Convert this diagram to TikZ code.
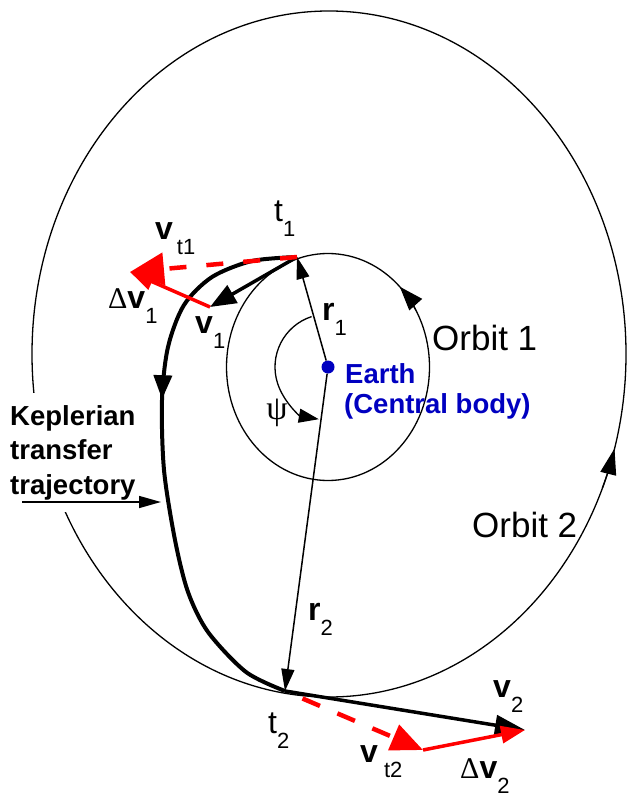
\documentclass[tikz,border=0pt]{standalone}
\usepackage{fontspec}
\setmainfont{Liberation Sans}
\newfontfamily\greekfont{Liberation Serif}
\usetikzlibrary{arrows.meta,decorations.markings}
\definecolor{earthblue}{HTML}{0000C0}
\definecolor{burnred}{HTML}{FF0000}
\newcommand{\subsz}{\fontsize{22}{22}\selectfont}
\newcommand{\idx}[1]{\raisebox{-15pt}{\subsz #1}}
\newcommand{\dlt}{{\greekfont\fontsize{30}{30}\selectfont Δ}}
\tikzset{
  orbit/.style={line width=1.3pt},
  transfer/.style={line width=4pt},
  radvec/.style={line width=1.5pt,-{Triangle[length=22pt,width=13pt]}},
  pointer/.style={line width=1.5pt,-{Triangle[length=22pt,width=12pt]}},
  vel/.style={line width=3.5pt,-{Triangle[length=26pt,width=20pt]}},
  % the transfer velocities are dashed red, the impulses solid red
  tvel/.style={burnred,line width=4.5pt,dash pattern=on 17pt off 20pt,-{Triangle[length=34pt,width=32pt]}},
  dvel/.style={burnred,line width=3.5pt,-{Triangle[length=24pt,width=17pt]}},
  lab/.style={inner sep=0,anchor=base west,font=\fontsize{32}{32}\selectfont},
  olab/.style={inner sep=0,anchor=base west,font=\fontsize{35}{35}\selectfont},
  blab/.style={inner sep=0,anchor=base west,font=\fontsize{27.5}{34.5}\selectfont\bfseries},
}

\begin{document}
\begin{tikzpicture}[x=1pt,y=-1pt]
  \useasboundingbox (0,0) rectangle (626,799);
  % the two orbits and the central body
  \coordinate (O2) at (329,354);
  \coordinate (t1) at (297,257);
  \coordinate (t2) at (285,691);
  \draw[orbit] (O2) ellipse[x radius=297, y radius=343];
  \draw[orbit,-{Triangle[length=26pt,width=16pt]}] (O2) ++(23:297 and 343) arc[start angle=23, end angle=16, x radius=297, y radius=343];
  \node[blab,anchor=north west,align=left,fill=white,inner sep=12pt] (kep) at (-2,393) {Keplerian\\transfer\\trajectory};
  \node[circle,fill=earthblue,minimum size=13pt,inner sep=0] (earth) at (328,367) {};
  \draw[orbit] (earth.center) ellipse[x radius=101.5, y radius=113.5];
  \draw[orbit,-{Triangle[length=24pt,width=17pt]}] (earth.center) ++(-30:101.5 and 113.5) arc[start angle=-30, end angle=-45, x radius=101.5, y radius=113.5];
  % position vectors and the transfer angle
  \draw[radvec] (earth) -- (t1);
  \draw[radvec] (earth) -- (t2);
  \draw[orbit,-{Triangle[length=20pt,width=14pt]}] (earth.center) ++(252:53) arc[start angle=252, end angle=100, radius=53];
  % the transfer arc
  \draw[transfer,postaction={decorate},decoration={markings,mark=at position 0.4 with {\arrow{Triangle[length=24pt,width=18pt]}}}]
    plot[smooth] coordinates {(t1) (252,261) (212,277) (184,305) (168,347) (162,400) (164,470) (175,540) (188,592) (208,632) (246,672) (t2)};
  \coordinate (kbeg) at (22,502);
  \coordinate (kend) at (161,502);
  \draw[pointer] (kbeg) -- (kend);
  % velocities at departure
  \coordinate (v1e) at (210,307);
  \coordinate (vt1e) at (130,272);
  \draw[vel] (t1) -- (v1e);
  \draw[tvel] (t1) -- (vt1e);
  \draw[dvel] (v1e) -- (vt1e);
  % velocities at arrival
  \coordinate (v2e) at (525,730);
  \coordinate (vt2e) at (423,750);
  \draw[vel,-{Triangle[length=30pt,width=20pt]}] (t2) -- (v2e);
  \draw[tvel,dash pattern=on 19pt off 19pt,dash phase=19pt,-{Triangle[length=32pt,width=27pt]}] (t2) -- (vt2e);
  \draw[dvel] (vt2e) -- (v2e);
  % labels
  \node[lab] (lt1) at (274,222) {t\idx{1}};
  \node[lab] (lvt1) at (155,240) {\textbf{v}\kern4pt\idx{t1}};
  \node[lab] (ldv1) at (108,308) {\dlt\textbf{v}\idx{1}};
  \node[lab] (lv1) at (195,333) {\textbf{v}\idx{1}};
  \node[lab] (lr1) at (322,320) {\textbf{r}\idx{1}};
  \node[lab] (lr2) at (308,620) {\textbf{r}\idx{2}};
  \node[lab] (lt2) at (268,733) {t\idx{2}};
  \node[lab] (lv2) at (493,697) {\textbf{v}\idx{2}};
  \node[lab] (lvt2) at (360,762) {\textbf{v}\kern6pt\idx{t2}};
  \node[lab] (ldv2) at (460,778) {\dlt\textbf{v}\idx{2}};
  \node[inner sep=0,font=\greekfont\fontsize{34}{34}\selectfont] (lpsi) at (277,413) {ψ};
  \node[olab] (lo1) at (432,350) {Orbit 1};
  \node[olab] (lo2) at (472,537) {Orbit 2};
  \node[blab,text=earthblue] (le1) at (345,383) {Earth};
  \node[blab,text=earthblue] (le2) at (344,413) {(Central body)};
\end{tikzpicture}
\end{document}
